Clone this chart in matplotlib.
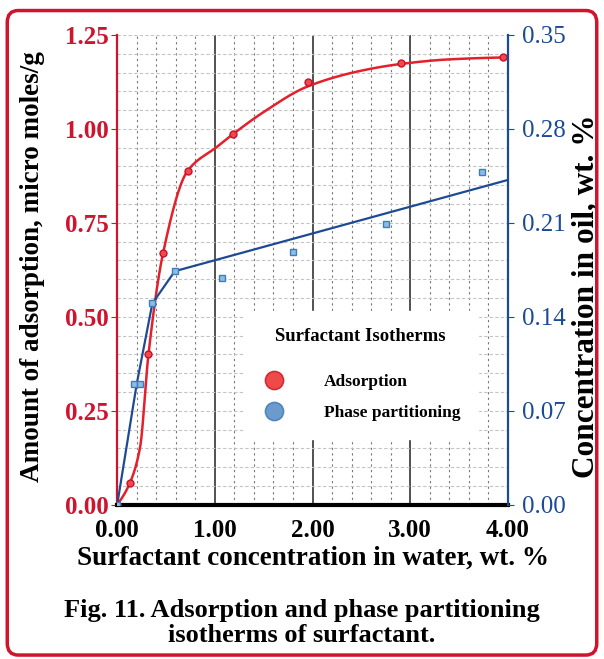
import numpy as np
import matplotlib
matplotlib.use('Agg')
from matplotlib import pyplot as plt
from matplotlib.lines import Line2D
from matplotlib.patches import FancyBboxPatch

# adsorption isotherm (left axis, micro moles/g)
ads_x = [0.00, 0.13, 0.32, 0.47, 0.72, 1.19, 1.95, 2.91, 3.95]
ads_y = [0.00, 0.058, 0.40, 0.67, 0.888, 0.987, 1.125, 1.175, 1.19]

# red fitted curve
ads_fit_x = [0.00, 0.13, 0.235, 0.32, 0.47, 0.72, 1.02, 1.19, 1.50,
             1.95, 2.50, 2.91, 3.40, 3.95]
ads_fit_y = [0.00, 0.058, 0.154, 0.40, 0.67, 0.888, 0.952, 0.987, 1.045,
             1.113, 1.155, 1.173, 1.185, 1.19]

# phase partitioning (right axis, wt. %)
part_x = [0.00, 0.17, 0.23, 0.36, 0.59, 1.07, 1.80, 2.75, 3.73]
part_y = [0.00, 0.090, 0.090, 0.150, 0.174, 0.169, 0.188, 0.209, 0.248]

# blue trend line vertices as drawn in the figure
part_line_x = [0.00, 0.20, 0.36, 0.59, 4.00]
part_line_y = [0.00, 0.090, 0.150, 0.174, 0.242]

left_ticks = [0.00, 0.25, 0.50, 0.75, 1.00, 1.25]
right_ticks = [0.00, 0.07, 0.14, 0.21, 0.28, 0.35]
x_ticks = [0.00, 1.00, 2.00, 3.00, 4.00]

RED = '#d0142e'
BLUE = '#1d4a94'
SERIF = 'Liberation Serif'
plt.rcParams['font.family'] = SERIF


def pchip(x, y, xs):
    # monotone cubic, only used to draw the curve smoothly
    x = np.asarray(x, float)
    y = np.asarray(y, float)
    h = np.diff(x)
    d = np.diff(y) / h
    n = len(x)
    m = np.zeros(n)
    for k in range(1, n - 1):
        if d[k - 1] * d[k] > 0:
            w1 = 2 * h[k] + h[k - 1]
            w2 = h[k] + 2 * h[k - 1]
            m[k] = (w1 + w2) / (w1 / d[k - 1] + w2 / d[k])
    m[0] = d[0] * 0.8
    m[-1] = d[-1] * 0.5
    out = np.empty_like(xs)
    for i, xv in enumerate(xs):
        k = min(max(np.searchsorted(x, xv) - 1, 0), n - 2)
        t = (xv - x[k]) / h[k]
        h00 = 2 * t**3 - 3 * t**2 + 1
        h10 = t**3 - 2 * t**2 + t
        h01 = -2 * t**3 + 3 * t**2
        h11 = t**3 - t**2
        out[i] = h00 * y[k] + h10 * h[k] * m[k] + h01 * y[k + 1] + h11 * h[k] * m[k + 1]
    return out


fig = plt.figure(figsize=(6.04, 6.59), dpi=100)
ax1 = fig.add_axes([0.194, 0.234, 0.647, 0.713])
ax2 = ax1.twinx()

ax1.set_xlim(0, 4)
ax1.set_ylim(0, 1.25)
ax2.set_ylim(0, 0.35)

# grid
ax1.set_xticks(x_ticks)
ax1.set_xticks(np.arange(0, 4.01, 0.2), minor=True)
ax1.set_yticks(left_ticks)
ax1.set_yticks(np.arange(0, 1.251, 0.05), minor=True)
ax1.xaxis.grid(True, which='major', color='#222222', lw=1.1, ls='-')
ax1.xaxis.grid(True, which='minor', color='#777777', lw=0.8, ls=(0, (2, 3)))
ax1.yaxis.grid(True, which='both', color='#c4c4c4', lw=0.8, ls=(0, (3, 2)))
ax1.set_axisbelow(True)

# adsorption
xs = np.linspace(0, 3.95, 400)
ax1.plot(xs, pchip(ads_fit_x, ads_fit_y, xs), color='#e3202b', lw=1.8, zorder=3)
ax1.plot(ads_x, ads_y, 'o', ms=5, mfc='#ee4a4a', mec='#c8102e', mew=1, zorder=4)

# phase partitioning
ax2.plot(part_line_x, part_line_y, color=BLUE, lw=1.6, zorder=3)
ax2.plot(part_x, part_y, 's', ms=4.5, mfc='#8fbde0', mec='#3c7dbf', mew=1, zorder=4)

# spines
for a in (ax1, ax2):
    a.spines['top'].set_visible(False)
ax1.spines['left'].set_color(RED)
ax1.spines['left'].set_linewidth(1.6)
ax2.spines['left'].set_visible(False)
ax2.spines['right'].set_color(BLUE)
ax2.spines['right'].set_linewidth(1.6)
ax1.spines['right'].set_visible(False)
ax1.spines['bottom'].set_color('black')
ax1.spines['bottom'].set_linewidth(3)
ax2.spines['bottom'].set_visible(False)

# ticks
ax1.set_xticklabels(['%.2f' % v for v in x_ticks], fontsize=18, fontweight='bold')
ax1.set_yticklabels(['%.2f' % v for v in left_ticks], fontsize=18, color=RED,
                    fontweight='bold')
ax2.set_yticks(right_ticks)
ax2.set_yticklabels(['%.2f' % v for v in right_ticks], fontsize=18, color=BLUE)
ax1.tick_params(axis='x', which='both', length=0, pad=10)
ax1.tick_params(axis='y', which='major', length=4, direction='out', color=RED, pad=2)
ax1.tick_params(axis='y', which='minor', length=0)
ax2.tick_params(axis='y', length=4, direction='out', color=BLUE, pad=6)

ax1.set_xlabel('Surfactant concentration in water, wt. %', fontsize=19.5,
               fontweight='bold')
ax1.xaxis.set_label_coords(0.5, -0.113)
ax1.xaxis.label.set_va('center')
ax1.set_ylabel('Amount of adsorption, micro moles/g', fontsize=19.5,
               fontweight='bold')
ax1.yaxis.set_label_coords(-0.217, 0.508)
ax1.yaxis.label.set_va('center')
ax2.set_ylabel('Concentration in oil, wt. %', fontsize=22.5, fontweight='bold',
               rotation=90)
ax2.yaxis.set_label_coords(1.2, 0.443)
ax2.yaxis.label.set_va('center')

# legend
handles = [
    Line2D([], [], ls='', marker='o', ms=13, mfc='#ee4a4a', mec='#d42a35', mew=1.2),
    Line2D([], [], ls='', marker='o', ms=13, mfc='#6a9bcc', mec='#4f86c0', mew=1.2),
]
leg = ax2.legend(handles, ['Adsorption', 'Phase partitioning'],
                 title='Surfactant Isotherms', loc='upper left',
                 bbox_to_anchor=(0.324, 0.413), frameon=True, framealpha=1,
                 edgecolor='white', facecolor='white', fancybox=False,
                 prop={'family': SERIF, 'weight': 'bold', 'size': 12.5},
                 handletextpad=2.1, labelspacing=0.85, borderpad=1.0,
                 handlelength=1.5, borderaxespad=0)
leg.get_title().set_fontweight('bold')
leg.get_title().set_fontsize(13.5)
leg._legend_box.sep = 21
leg.set_zorder(10)

# caption
fig.text(0.5, 0.0546, 'Fig. 11. Adsorption and phase partitioning\nisotherms of surfactant.',
         ha='center', va='center', fontsize=19, fontweight='bold', linespacing=1.15)

# rounded frame round the whole figure
frame = FancyBboxPatch((0.012, 0.006), 0.976, 0.978, transform=fig.transFigure,
                       boxstyle='round,pad=0,rounding_size=0.018', fill=False,
                       edgecolor=RED, lw=2.5)
fig.patches.append(frame)

fig.savefig('out.png', dpi=100)
